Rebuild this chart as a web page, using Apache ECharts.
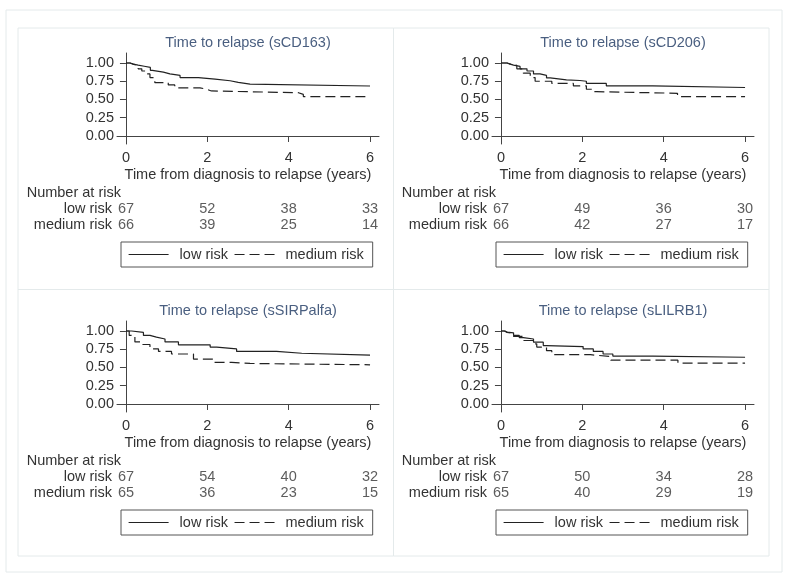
<!DOCTYPE html>
<html>
<head>
<meta charset="utf-8">
<script src="https://cdn.jsdelivr.net/npm/echarts@6/dist/echarts.min.js"></script>
<style>
html, body { margin: 0; padding: 0; background: #fff; }
#main { width: 789px; height: 579px; }
</style>
</head>
<body>
<div id="main"></div>
<script>
var titles = ['Time to relapse (sCD163)', 'Time to relapse (sCD206)', 'Time to relapse (sSIRPalfa)', 'Time to relapse (sLILRB1)'];
var groups = ['low risk', 'medium risk'];
var xTicks = [0, 2, 4, 6];
var yTicks = [0, 0.25, 0.5, 0.75, 1];

// Kaplan-Meier steps: [years, survival]
var cd163Low = [[0, 1], [0.1, 0.985], [0.18, 0.97], [0.3, 0.955], [0.45, 0.94], [0.6, 0.9], [0.65, 0.875], [0.92, 0.85], [1.08, 0.83], [1.33, 0.8], [1.78, 0.78], [2.19, 0.757], [2.56, 0.735], [2.76, 0.71], [3.05, 0.685], [6, 0.685]];
var cd163Med = [[0, 1], [0.1, 0.985], [0.18, 0.965], [0.3, 0.92], [0.39, 0.89], [0.51, 0.85], [0.59, 0.8], [0.71, 0.73], [1.04, 0.7], [1.2, 0.66], [1.82, 0.64], [1.98, 0.617], [2.1, 0.593], [4.24, 0.57], [4.36, 0.54], [6, 0.54]];
var cd206Low = [[0, 1], [0.15, 0.985], [0.23, 0.97], [0.31, 0.953], [0.47, 0.92], [0.64, 0.89], [0.8, 0.85], [0.96, 0.83], [1.12, 0.795], [1.21, 0.77], [1.61, 0.76], [1.94, 0.75], [2.1, 0.72], [2.59, 0.687], [3.73, 0.664], [6, 0.664]];
var cd206Med = [[0, 1], [0.15, 0.985], [0.23, 0.967], [0.39, 0.92], [0.55, 0.86], [0.72, 0.8], [0.84, 0.75], [1.25, 0.72], [1.78, 0.687], [2.1, 0.64], [2.27, 0.607], [2.35, 0.585], [4.34, 0.54], [6, 0.54]];
var sirpLow = [[0, 1], [0.14, 0.98], [0.43, 0.94], [0.59, 0.917], [0.75, 0.89], [0.96, 0.85], [1.29, 0.81], [2.07, 0.78], [2.23, 0.755], [2.72, 0.72], [3.7, 0.695], [4.32, 0.67], [6, 0.67]];
var sirpMed = [[0, 1], [0.08, 0.94], [0.22, 0.85], [0.39, 0.815], [0.59, 0.755], [0.8, 0.72], [1.12, 0.685], [1.66, 0.615], [2.15, 0.57], [2.6, 0.555], [3.05, 0.537], [6, 0.537]];
var lilrbLow = [[0, 1], [0.08, 0.985], [0.15, 0.975], [0.31, 0.94], [0.45, 0.91], [0.55, 0.89], [0.8, 0.847], [1.04, 0.8], [1.12, 0.787], [2.02, 0.755], [2.27, 0.72], [2.51, 0.685], [2.75, 0.657], [3.73, 0.64], [6, 0.64]];
var lilrbMed = [[0, 1], [0.1, 0.98], [0.15, 0.965], [0.31, 0.925], [0.55, 0.87], [0.8, 0.824], [0.88, 0.78], [1.12, 0.73], [1.25, 0.675], [2.2, 0.65], [2.7, 0.6], [4.35, 0.56], [6, 0.56]];

var lowCurves = [cd163Low, cd206Low, sirpLow, lilrbLow];
var medCurves = [cd163Med, cd206Med, sirpMed, lilrbMed];

// number at risk at 0, 2, 4, 6 years
var riskLow = [[67, 52, 38, 33], [67, 49, 36, 30], [67, 54, 40, 32], [67, 50, 34, 28]];
var riskMed = [[66, 39, 25, 14], [66, 42, 27, 17], [65, 36, 23, 15], [65, 40, 29, 19]];

var myChart = echarts.init(document.getElementById('main'), null, { renderer: 'canvas' });

var FONT = 'Liberation Sans, Arial, sans-serif';
var FS = 14.5;
var INK = '#333';
var grids = [], xAxes = [], yAxes = [], series = [], title = [], legend = [], graphic = [];

// light frames
graphic.push({ type: 'rect', shape: { x: 6, y: 10, width: 776, height: 562 }, style: { fill: 'none', stroke: '#e4eaeb', lineWidth: 1 }, silent: true });
graphic.push({ type: 'rect', shape: { x: 18, y: 28, width: 751, height: 528 }, style: { fill: 'none', stroke: '#e4eaeb', lineWidth: 1 }, silent: true });
graphic.push({ type: 'line', shape: { x1: 393.5, y1: 28, x2: 393.5, y2: 556 }, style: { stroke: '#e4eaeb', lineWidth: 1 }, silent: true });
graphic.push({ type: 'line', shape: { x1: 18, y1: 289.5, x2: 769, y2: 289.5 }, style: { stroke: '#e4eaeb', lineWidth: 1 }, silent: true });

for (var p = 0; p < 4; p++) {
	var ox = (p % 2) * 375;
	var oy = Math.floor(p / 2) * 268;
	var gi = p * 2;

	title.push({
		text: titles[p],
		left: 248 + ox,
		top: 35 + oy,
		textAlign: 'center',
		padding: 0,
		textStyle: { fontFamily: FONT, fontSize: FS, fontWeight: 'normal', color: '#4a5f80' }
	});

	// survival plot
	grids.push({ left: 117 + ox, top: 53 + oy, width: 262, height: 91 });
	// number at risk table
	grids.push({ left: 117 + ox, top: 201 + oy, width: 262, height: 32 });

	xAxes.push({
		gridIndex: gi,
		type: 'value',
		min: -0.22,
		max: 6.22,
		name: 'Time from diagnosis to relapse (years)',
		nameLocation: 'middle',
		nameGap: 23,
		nameTextStyle: { fontFamily: FONT, fontSize: FS, color: INK },
		axisLine: { lineStyle: { color: '#444', width: 1 } },
		axisTick: { customValues: xTicks, length: 6, lineStyle: { color: '#444' } },
		axisLabel: { customValues: xTicks, margin: 6, fontFamily: FONT, fontSize: FS, color: INK },
		splitLine: { show: false }
	});
	xAxes.push({ gridIndex: gi + 1, type: 'value', min: -0.22, max: 6.22, show: false });

	yAxes.push({
		gridIndex: gi,
		type: 'value',
		min: -0.11,
		max: 1.137,
		axisLine: { show: true, lineStyle: { color: '#444', width: 1 } },
		axisTick: { show: true, customValues: yTicks, length: 6, lineStyle: { color: '#444' } },
		axisLabel: {
			customValues: yTicks, margin: 3, fontFamily: FONT, fontSize: FS, color: INK,
			formatter: function(v) { return v.toFixed(2); }
		},
		splitLine: { show: false }
	});
	yAxes.push({
		gridIndex: gi + 1,
		type: 'category',
		data: [groups[1], groups[0]],
		name: 'Number at risk',
		nameLocation: 'end',
		nameGap: 1,
		nameTextStyle: { fontFamily: FONT, fontSize: FS, color: INK, align: 'right', padding: [0, 5, 0, 0] },
		axisLine: { show: false },
		axisTick: { show: false },
		axisLabel: { interval: 0, margin: 5, fontFamily: FONT, fontSize: FS, color: INK },
		splitLine: { show: false }
	});

	series.push({
		name: groups[0], type: 'line', step: 'end', symbol: 'none',
		xAxisIndex: gi, yAxisIndex: gi,
		lineStyle: { color: '#222', width: 1.2, type: 'solid' },
		itemStyle: { color: '#222' },
		data: lowCurves[p], animation: false
	});
	series.push({
		name: groups[1], type: 'line', step: 'end', symbol: 'none',
		xAxisIndex: gi, yAxisIndex: gi,
		lineStyle: { color: '#222', width: 1.2, type: [10, 5] },
		itemStyle: { color: '#222' },
		data: medCurves[p], animation: false
	});

	var nar = [];
	for (var i = 0; i < xTicks.length; i++) {
		nar.push([xTicks[i], groups[0], riskLow[p][i]]);
		nar.push([xTicks[i], groups[1], riskMed[p][i]]);
	}
	series.push({
		name: 'nar' + p, type: 'scatter', symbolSize: 1,
		xAxisIndex: gi + 1, yAxisIndex: gi + 1,
		itemStyle: { color: 'rgba(0,0,0,0)' },
		label: {
			show: true, position: 'inside', fontFamily: FONT, fontSize: FS, color: INK,
			formatter: function(params) { return params.value[2]; }
		},
		data: nar, animation: false, silent: true
	});

	legend.push({
		data: groups,
		left: 121 + ox,
		top: 242 + oy,
		orient: 'horizontal',
		selectedMode: false,
		padding: [5, 9, 5, 7],
		itemWidth: 40,
		itemHeight: 10,
		itemGap: 6,
		borderColor: '#555',
		borderWidth: 1,
		itemStyle: { opacity: 0 },
		lineStyle: { width: 1.2 },
		textStyle: { fontFamily: FONT, fontSize: FS, color: INK, padding: [0, 0, 0, 6] }
	});
}

var option = {
	backgroundColor: '#fff',
	animation: false,
	title: title,
	legend: legend,
	grid: grids,
	xAxis: xAxes,
	yAxis: yAxes,
	series: series,
	graphic: graphic
};

myChart.setOption(option);

window.addEventListener('resize', function() {
	myChart.resize();
});
</script>
</body>
</html>
